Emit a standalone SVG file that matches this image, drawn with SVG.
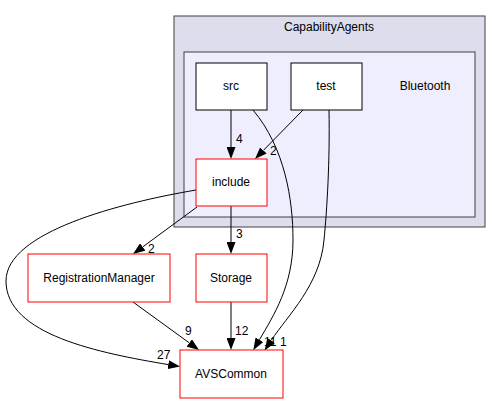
<svg xmlns="http://www.w3.org/2000/svg" width="502" height="404" viewBox="0 0 502 404">
<style>
text{font-family:"Liberation Sans",Arial,sans-serif;font-size:12px;fill:#000}
.n{fill:#fff;stroke:#000;stroke-width:1}
.r{fill:#fff;stroke:#ff0000;stroke-width:1}
.e{fill:none;stroke:#000;stroke-width:1}
.c{text-anchor:middle}
</style>
<defs>
<marker id="a" viewBox="0 0 12 9" refX="0" refY="4.5" markerWidth="12" markerHeight="9" markerUnits="userSpaceOnUse" orient="auto">
<path d="M0,0 L12,4.5 L0,9 Z" fill="#000"/>
</marker>
</defs>
<rect width="502" height="404" fill="#fff"/>
<g id="cluster_CapabilityAgents">
<rect x="174" y="16" width="311" height="211" fill="#dddded" stroke="#404040"/>
<text x="329" y="31" class="c">CapabilityAgents</text>
</g>
<g id="cluster_Bluetooth">
<rect x="184" y="52" width="291" height="165" fill="#eeeeff" stroke="#404040"/>
<text x="425" y="90" class="c">Bluetooth</text>
</g>
<g id="edges">
<path class="e" d="M231,110 L231,147" marker-end="url(#a)"/>
<text x="236" y="143">4</text>
<path class="e" d="M303,110 L263.4,150.4" marker-end="url(#a)"/>
<text x="270" y="155">2</text>
<path class="e" d="M197,207 L142.7,246.9" marker-end="url(#a)"/>
<text x="148" y="253">2</text>
<path class="e" d="M231,206 L231,242" marker-end="url(#a)"/>
<text x="236" y="238">3</text>
<path class="e" d="M133,302 L189.3,342.9" marker-end="url(#a)"/>
<text x="185" y="335">9</text>
<path class="e" d="M231,302 L231,338" marker-end="url(#a)"/>
<text x="235" y="335">12</text>
<path class="e" d="M253,110 C285,148 293,200 293,240 C293,285 274,315 259.4,339.8" marker-end="url(#a)"/>
<text x="264" y="346">11</text>
<path class="e" d="M329,110 C330,160 327,210 324,240 C320,285 288,315 271.2,340.4" marker-end="url(#a)"/>
<text x="280" y="346">1</text>
<path class="e" d="M196,190 C120,203 6,232 6,281 C6,335 100,353 168.2,364.6" marker-end="url(#a)"/>
<text x="157" y="359">27</text>
</g>
<g id="node_src">
<rect x="196" y="63" width="71" height="47" class="n"/>
<text x="231" y="90" class="c">src</text>
</g>
<g id="node_test">
<rect x="291" y="63" width="71" height="47" class="n"/>
<text x="326" y="90" class="c">test</text>
</g>
<g id="node_include">
<rect x="196" y="159" width="71" height="47" class="r"/>
<text x="231" y="186" class="c">include</text>
</g>
<g id="node_RegistrationManager">
<rect x="28" y="254" width="142" height="48" class="r"/>
<text x="99" y="282" class="c">RegistrationManager</text>
</g>
<g id="node_Storage">
<rect x="196" y="254" width="71" height="48" class="r"/>
<text x="231" y="282" class="c">Storage</text>
</g>
<g id="node_AVSCommon">
<rect x="180" y="350" width="103" height="48" class="r"/>
<text x="231" y="378" class="c">AVSCommon</text>
</g>
</svg>
